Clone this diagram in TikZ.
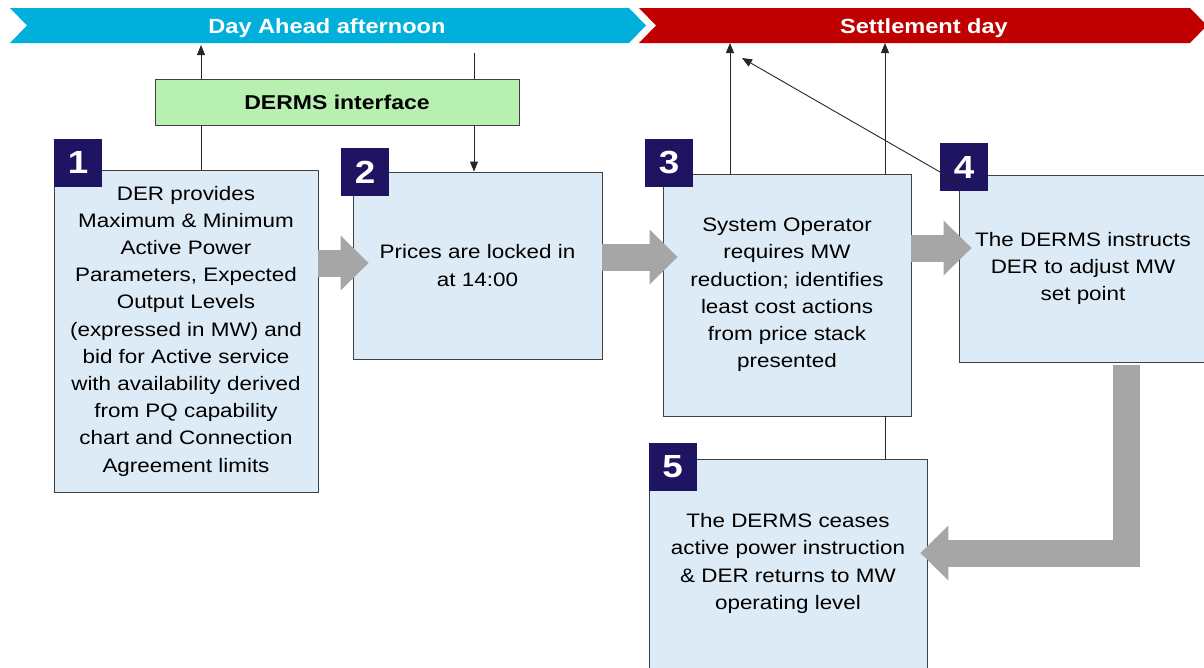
\documentclass[tikz,border=0pt]{standalone}
\usepackage{fontspec}
\setmainfont{Liberation Sans}[FakeStretch=1.15]
\usepackage{tikz}
\usetikzlibrary{calc,arrows.meta}
\definecolor{dayblue}{HTML}{00B0DA}
\definecolor{dayred}{HTML}{C00000}
\definecolor{boxblue}{HTML}{DDEBF6}
\definecolor{badgeblue}{HTML}{1F1462}
\definecolor{dermsgreen}{HTML}{B8F0B2}
\definecolor{fatgray}{HTML}{A6A6A6}
\tikzset{
	stepbox/.style={draw=black!75, fill=boxblue, line width=0.9pt, inner sep=0pt, align=center, font=\fontsize{19.5}{27.2}\selectfont},
	badge/.style={fill=badgeblue, text=white, minimum size=48pt, inner sep=0pt, font=\fontsize{32}{32}\selectfont\bfseries},
	wire/.style={line width=0.9pt, draw=black!85},
	arrowline/.style={wire, -{Triangle[length=10pt,width=8pt]}},
	fatarrow/.style={line width=27pt, draw=fatgray, -{Triangle[length=28pt,width=55pt,line width=0pt]}},
	banner/.style={text=white, font=\fontsize{20.5}{24}\selectfont\bfseries}
}

\begin{document}
\begin{tikzpicture}[x=1pt, y=-1pt]
		%%%%% START %%%%%
		
		\fill[white] (0,0) rectangle (1204,667);
		\useasboundingbox (0,0) rectangle (1204,667);
		
		\fill[dayblue] (10,8) -- (629,8) -- (646,25.5) -- (629,43) -- (10,43) -- (27,25.5) -- cycle;
		\fill[dayred] (639,8) -- (1190,8) -- (1207,25.5) -- (1190,43) -- (639,43) -- (656,25.5) -- cycle;
		\node[banner] (dayahead) at (327,28) {Day Ahead afternoon};
		\node[banner] (settle) at (924,28) {Settlement day};
		
		\node[draw=black!75, fill=dermsgreen, line width=0.9pt, minimum width=364pt, minimum height=46pt, font=\fontsize{20}{24}\selectfont\bfseries] (derms) at (337,102) {DERMS interface};
		
		\node[stepbox, minimum width=264pt, minimum height=322pt] (b1) at (186,331) {DER provides\\Maximum \& Minimum\\Active Power\\Parameters, Expected\\Output Levels\\(expressed in MW) and\\bid for Active service\\with availability derived\\from PQ capability\\chart and Connection\\Agreement limits};
		\node[stepbox, minimum width=249pt, minimum height=187pt] (b2) at (477.5,265.5) {Prices are locked in\\at 14:00};
		\node[stepbox, minimum width=248pt, minimum height=242pt] (b3) at (787,295) {System Operator\\requires MW\\reduction; identifies\\least cost actions\\from price stack\\presented};
		\node[stepbox, minimum width=248pt, minimum height=187pt] (b4) at (1083,268.5) {The DERMS instructs\\DER to adjust MW\\set point};
		\node[stepbox, minimum width=278pt, minimum height=209pt] (b5) at (788,563.5) {The DERMS ceases\\active power instruction\\\& DER returns to MW\\operating level};
		
		\node[badge] (n1) at (78,162.5) {1};
		\node[badge] (n2) at (365,172) {2};
		\node[badge] (n3) at (669,163) {3};
		\node[badge] (n4) at (964,167) {4};
		\node[badge] (n5) at (672.5,467) {5};
		
		% thin links
		\coordinate (c1) at (201,45);
		\coordinate (c2) at (474,53);
		\coordinate (c3) at (730,43);
		\coordinate (c4) at (885,43);
		\coordinate (c5) at (742,58);
		\draw[wire] (b1.north -| c1) -- (derms.south -| c1);
		\draw[arrowline] (derms.north -| c1) -- (c1);
		\draw[wire] (c2) -- (derms.north -| c2);
		\draw[arrowline] (derms.south -| c2) -- (b2.north -| c2);
		\draw[arrowline] (b3.north -| c3) -- (c3);
		\draw[arrowline] (b3.north -| c4) -- (c4);
		\draw[wire] (b3.south -| c4) -- (b5.north -| c4);
		\draw[arrowline] ($(n4.south)+(-1,-6)$) -- (c5);
		
		% grey block arrows
		\draw[fatarrow] (b1.east |- 0,263) -- ($(b2.west |- 0,263)+(16,0)$);
		\draw[fatarrow] (b2.east |- 0,257) -- ($(b3.west |- 0,257)+(15,0)$);
		\draw[fatarrow] (b3.east |- 0,248) -- ($(b4.west |- 0,248)+(13,0)$);
		\draw[fatarrow] ($(b4.south -| 1126,0)+(0,3)$) |- ($(b5.east |- 0,553)+(-7,0)$);
		
		%%%%% END %%%%%
	\end{tikzpicture}
\end{document}
